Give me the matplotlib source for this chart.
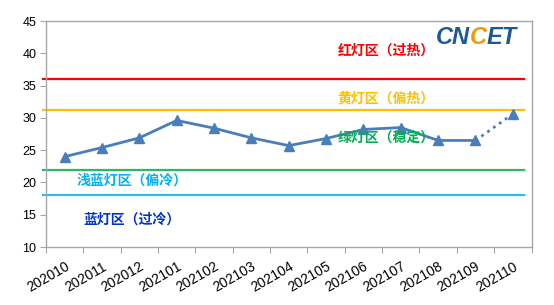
import numpy as np
import matplotlib
matplotlib.use("Agg")
import matplotlib.pyplot as plt

plt.rcParams['font.family'] = ['Liberation Sans', 'Noto Sans CJK SC', 'DejaVu Sans']

# data
months = ["202010", "202011", "202012", "202101", "202102", "202103", "202104",
          "202105", "202106", "202107", "202108", "202109", "202110"]
index_vals = [24.0, 25.4, 26.9, 29.6, 28.4, 26.9, 25.7, 26.8, 28.2, 28.5, 26.5, 26.5, 30.6]

# zone boundaries
red_line = 36.0
yellow_line = 31.2
green_line = 22.0
lightblue_line = 18.1

zone_labels = ["红灯区（过热）", "黄灯区（偏热）", "绿灯区（稳定）", "浅蓝灯区（偏冷）", "蓝灯区（过冷）"]
zone_colors = ["#FF0000", "#FFC000", "#00B050", "#00B0F0", "#0033CC"]
zone_label_x = [8.6, 8.6, 8.6, 1.8, 1.8]
zone_label_y = [40.4, 33.0, 27.0, 20.3, 14.3]

fig = plt.figure(figsize=(5.54, 3.05), dpi=100)
ax = fig.add_axes([46 / 554, 1 - 247 / 305, 485.5 / 554, 226 / 305])

x = np.arange(len(months))
line_col = "#4A7EBB"

# boundary lines
for val, col in zip([red_line, yellow_line, green_line, lightblue_line],
                    ["#FF0000", "#FFC000", "#2DB866", "#2BBDEE"]):
    ax.plot([-0.58, 12.3], [val, val], color=col, lw=1.6, clip_on=False, zorder=2)

# solid part of the series, dotted last segment
ax.plot(x[:-1], index_vals[:-1], color=line_col, lw=2, marker="^", ms=6.5, zorder=4)
ax.plot(x[-2:], index_vals[-2:], color=line_col, lw=2, ls=(0, (1, 1.6)), zorder=3)
ax.plot(x[-1], index_vals[-1], color=line_col, marker="^", ms=6.5, zorder=4)

for lab, col, lx, ly in zip(zone_labels, zone_colors, zone_label_x, zone_label_y):
    ax.text(lx, ly, lab, color=col, fontsize=10, fontweight="bold",
            ha="center", va="center", family=["Noto Sans CJK SC", "DejaVu Sans"], zorder=5)

ax.set_xlim(-0.5, len(months) - 0.5)
ax.set_ylim(10, 45)
ax.set_yticks(range(10, 46, 5))

ax.set_xticks(np.arange(-0.5, len(months), 1))
ax.set_xticklabels([])
ax.set_xticks(x, minor=True)
ax.set_xticklabels(months, minor=True, rotation=30, ha="right", va="top",
                   rotation_mode="anchor", fontsize=10)
ax.tick_params(axis="x", which="minor", length=0, pad=9)
ax.tick_params(axis="x", which="major", length=4, color="#A6A6A6")
ax.tick_params(axis="y", length=4, color="#A6A6A6", labelsize=9, pad=3)

for s in ax.spines.values():
    s.set_color("#A6A6A6")
    s.set_linewidth(1)

# CNCET logo as text
t1 = ax.text(0.803, 0.898, "CN", transform=ax.transAxes, color="#1C5A96",
             fontsize=17, fontweight="bold", style="italic", va="baseline", ha="left")
t2 = ax.annotate("C", xy=(1, 0), xycoords=t1, color="#F39800", fontsize=17,
                 fontweight="bold", style="italic", va="bottom", ha="left")
t3 = ax.annotate("ET", xy=(1, 0), xycoords=t2, color="#1C5A96", fontsize=17,
                 fontweight="bold", style="italic", va="bottom", ha="left")

fig.savefig("out.png", dpi=100)
